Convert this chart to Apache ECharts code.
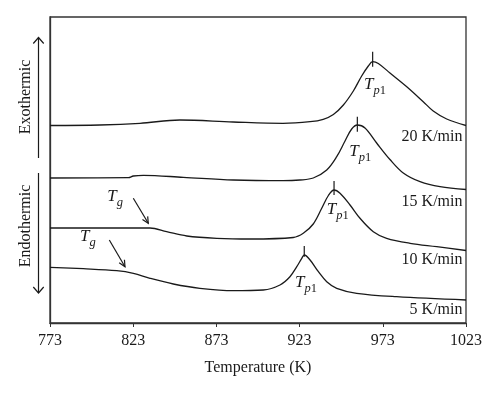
<!DOCTYPE html>
<html><head><meta charset="utf-8">
<script src="https://cdn.jsdelivr.net/npm/echarts@6/dist/echarts.min.js"></script>
<style>html,body{margin:0;padding:0;background:#fff}#c{width:500px;height:394px}</style>
</head><body><div id="c"></div>
<script>
// Temperature (K) vs. heat flow (arbitrary units, curves offset)
const xTicks = [773, 823, 873, 923, 973, 1023];
const curve20 = [[773,197.5],[803,198],[827.1,199.7],[851.1,203],[883,201],[913,199.7],[929.3,201.3],[937.2,203.7],[943.3,208.5],[949.3,218],[955.3,232],[960.3,247],[964.3,257],[966.9,261.3],[970.3,259.5],[977.3,250],[987.4,236.3],[997.3,221.3],[1003.3,212],[1011.4,204],[1023,197.5]];
const curve15 = [[773,145],[820.1,145.3],[823.1,147],[829.1,147.7],[853.1,145.7],[883.2,143],[913.2,142.3],[923.2,143],[931.2,145],[939.3,153],[945.3,166.3],[950.3,182],[954.3,194],[957.7,198],[962.3,195],[969.3,180],[977.3,163.5],[985.3,150],[995.4,141.3],[1007.4,136.3],[1023,133.5]];
const curve10 = [[773,95],[833.1,95],[843.1,91.3],[855.2,87],[873.2,84.7],[893.2,84],[919.2,85.5],[925.2,89.7],[931.2,99],[936.3,114.7],[940.3,127.5],[943.7,133],[947.3,129.7],[953.3,118],[959.3,104.7],[967.3,91.3],[975.3,84.7],[989.4,79.7],[1005.4,76.3],[1023,72.5]];
const curve5 = [[773,55.7],[793,54.3],[813.1,52.3],[823.1,49.7],[833.1,44.7],[847.1,39],[863.1,34.7],[883.2,32.3],[901.2,33],[911.2,38],[917.2,46.3],[921.3,56.3],[924.3,64.7],[925.8,68],[929.3,63],[934.3,51.3],[939.3,41.3],[945.3,34.7],[957.3,29.7],[981.3,26.3],[1023,23]];
const peakT = [966.9, 957.7, 943.7, 925.8];
const tickLow = [256.3, 191.3, 128, 66.3];
const tickHigh = [271.3, 206.3, 142, 77];
const rateLabels = ['20 K/min', '15 K/min', '10 K/min', '5 K/min'];

const chart = echarts.init(document.getElementById('c'));
const F = 'Liberation Serif, Times New Roman, serif';
const C = '#1a1a1a';
const curves = [curve20, curve15, curve10, curve5];
const series = curves.map(d => ({
  type: 'line', data: d, showSymbol: false, smooth: 0.35,
  lineStyle: {color: C, width: 1.3}, silent: true
}));
peakT.forEach((t, i) => series.push({
  type: 'line', data: [[t, tickLow[i]], [t, tickHigh[i]]], showSymbol: false,
  lineStyle: {color: C, width: 1.2}, silent: true
}));

function txt(x, y, s, size, opts) {
  return Object.assign({type: 'text', x: x, y: y, style: Object.assign({text: s, font: (opts && opts.italic ? 'italic ' : '') + size + 'px ' + F, fill: C, textVerticalAlign: 'middle'}, opts && opts.style)}, opts && opts.el);
}
const graphics = [];
const rateY = [136.7, 201.7, 260, 309.3];
rateLabels.forEach((s, i) => graphics.push(txt(462.5, rateY[i], s, 16, {style: {textAlign: 'right'}})));
const tpPos = [[364, 85], [349.3, 151.7], [326.7, 210], [295, 282.7]];
tpPos.forEach(p => {
  graphics.push(txt(p[0], p[1], 'T', 17, {italic: true}));
  graphics.push({type: 'text', x: p[0] + 9.5, y: p[1] + 6, style: {text: '{i|p}{n|1}', textVerticalAlign: 'middle', rich: {i: {font: 'italic 12.5px ' + F, fill: C}, n: {font: '12.5px ' + F, fill: C}}}});
});
const tgPos = [[107.3, 196.7], [80, 236.7]];
tgPos.forEach(p => {
  graphics.push(txt(p[0], p[1], 'T', 17, {italic: true}));
  graphics.push(txt(p[0] + 9.5, p[1] + 6, 'g', 12.5, {italic: true}));
});
const arrows = [[133.3, 198.3, 148.3, 223.3], [109.3, 240, 125, 266.7]];
arrows.forEach(a => {
  graphics.push({type: 'line', shape: {x1: a[0], y1: a[1], x2: a[2], y2: a[3]}, style: {stroke: C, lineWidth: 1.2}});
  const ang = Math.atan2(a[3] - a[1], a[2] - a[0]);
  const L = 7, w = 0.45;
  graphics.push({type: 'polyline', shape: {points: [
    [a[2] - L * Math.cos(ang - w), a[3] - L * Math.sin(ang - w)], [a[2], a[3]],
    [a[2] - L * Math.cos(ang + w), a[3] - L * Math.sin(ang + w)]]}, style: {stroke: C, lineWidth: 1.2, fill: null}});
});
graphics.push({type: 'text', x: 26, y: 97, rotation: Math.PI / 2, style: {text: 'Exothermic', font: '16px ' + F, fill: C, textAlign: 'center', textVerticalAlign: 'middle'}});
graphics.push({type: 'text', x: 26, y: 226, rotation: Math.PI / 2, style: {text: 'Endothermic', font: '16px ' + F, fill: C, textAlign: 'center', textVerticalAlign: 'middle'}});
graphics.push({type: 'line', shape: {x1: 38.5, y1: 158, x2: 38.5, y2: 37.5}, style: {stroke: C, lineWidth: 1.2}});
graphics.push({type: 'polyline', shape: {points: [[33.3, 43.5], [38.5, 37.5], [43.7, 43.5]]}, style: {stroke: C, lineWidth: 1.2, fill: null}});
graphics.push({type: 'line', shape: {x1: 38.5, y1: 173, x2: 38.5, y2: 293}, style: {stroke: C, lineWidth: 1.2}});
graphics.push({type: 'polyline', shape: {points: [[33.3, 287], [38.5, 293], [43.7, 287]]}, style: {stroke: C, lineWidth: 1.2, fill: null}});

chart.setOption({
  animation: false,
  grid: {left: 50, right: 34, top: 17, bottom: 71, show: true, borderColor: '#333', borderWidth: 1.3, backgroundColor: 'transparent'},
  xAxis: {
    type: 'value', min: 773, max: 1023, interval: 50,
    name: 'Temperature (K)', nameLocation: 'middle', nameGap: 37,
    nameTextStyle: {fontFamily: F, fontSize: 16, color: C},
    axisLine: {lineStyle: {color: '#333', width: 1.3}},
    axisTick: {show: true, length: 4, lineStyle: {color: '#333'}},
    axisLabel: {fontFamily: F, fontSize: 16, color: C, margin: 10, formatter: v => xTicks.includes(v) ? String(v) : ''},
    splitLine: {show: false}
  },
  yAxis: {
    type: 'value', min: 0, max: 306,
    axisLine: {show: true, lineStyle: {color: '#333', width: 1.3}},
    axisTick: {show: false}, axisLabel: {show: false}, splitLine: {show: false}
  },
  series: series,
  graphic: graphics
});
</script></body></html>
